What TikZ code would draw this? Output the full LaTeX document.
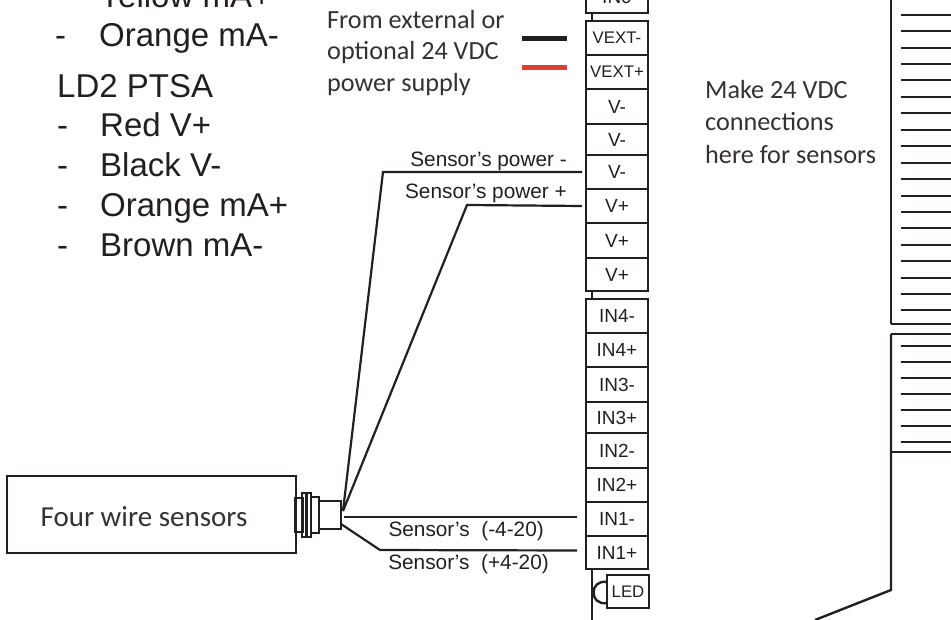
\documentclass[tikz,border=0pt]{standalone}
\usepackage{fontspec}
\setmainfont{Liberation Sans}
\newfontfamily\notefont{Carlito}
\usetikzlibrary{positioning}
\definecolor{ink}{HTML}{231F20}
\definecolor{feedred}{HTML}{D9402E}

\begin{document}
\begin{tikzpicture}[
            x=1pt, y=-1pt,
            terminal/.style={draw=ink, line width=2pt, rectangle, inner sep=0pt, outer sep=0pt, minimum width=62pt, text=ink, font=\fontsize{19}{21}\selectfont},
            smallterm/.style={terminal, font=\fontsize{16.8}{18}\selectfont},
            block/.style={draw=ink, line width=2.6pt},
            part/.style={draw=ink, line width=2.4pt, rectangle, inner sep=0pt, outer sep=0pt},
            wire/.style={draw=ink, line width=2.2pt},
            feed/.style={line width=5pt},
            outline/.style={draw=ink, line width=2.4pt},
            tick/.style={draw=ink, line width=2pt},
            listing/.style={anchor=base west, inner sep=0pt, text=ink, font=\fontsize{33}{36}\selectfont},
            wirelabel/.style={anchor=base east, inner sep=0pt, text=ink, font=\fontsize{20.8}{23}\selectfont},
            note/.style={anchor=base west, inner sep=0pt, text=ink!92, font=\notefont\fontsize{26.2}{29}\selectfont}
        ]
        \clip (0,0) rectangle (951,620);

        % Wiring list
        \node[listing] (yellow) at (99,8) {Yellow mA+};
        \node[listing] (dashb) at (55,47) {-};
        \node[listing] (orangea) at (99,47) {Orange mA-};
        \node[listing] (ptsa) at (57,98) {LD2 PTSA};
        \foreach \nm/\txt/\ypos in {red/Red V+/137, black/Black V-/177, orangeb/Orange mA+/217, brown/Brown mA-/257}{
            \node[listing] (dash\nm) at (57,\ypos) {-};
            \node[listing] (\nm) at (100,\ypos) {\txt};
        }

        % Terminal strip
        \foreach \nm/\txt/\ya/\yb in {inzero/IN0/-20/13, vm1/V-/89/124, vm2/V-/124/155, vm3/V-/155/189, vp1/V+/189/223, vp2/V+/223/258, vp3/V+/258/291, infourm/IN4-/299/333, infourp/IN4+/333/367, inthreem/IN3-/367/402, inthreep/IN3+/402/433, intwom/IN2-/433/468, intwop/IN2+/468/502, inonem/IN1-/502/536, inonep/IN1+/536/569}{
            \node[terminal, minimum height={(\yb-\ya)*1pt}] (\nm) at (617,{(\ya+\yb)/2}) {\txt};
        }
        \node[smallterm, minimum height=34pt] (vextm) at (617,38) {VEXT-};
        \node[smallterm, minimum height=34pt] (vextp) at (617,72) {VEXT+};
        \draw[block] (vextm.north west) rectangle (vp3.south east);
        \draw[block] (infourm.north west) rectangle (inonep.south east);
        \draw[block] (inzero.north west) rectangle (inzero.south east);

        % Board edge behind the strip
        \draw[outline] (592,13) -- (592,21);
        \draw[outline] (592,291) -- (592,299);
        \draw[outline] (592,569) -- (592,620);
        \node[smallterm, minimum width=42pt, minimum height=33pt, line width=2.2pt] (led) at (628,591.5) {LED};
        \draw[outline] (607,582) .. controls (589,579) and (589,606) .. (607,603);

        % External supply
        \node[note] (froma) at (327,29) {From external or};
        \node[note] (fromb) at (327,60) {optional 24 VDC};
        \node[note] (fromc) at (327,92) {power supply};
        \coordinate (blacka) at (522,39);
        \coordinate (blackb) at (567,39);
        \coordinate (reda) at (522,68);
        \coordinate (redb) at (567,68);
        \draw[feed, draw=ink] (blacka) -- (blackb);
        \draw[feed, draw=feedred] (reda) -- (redb);

        \node[note] (makea) at (705,99) {Make 24 VDC};
        \node[note] (makeb) at (705,131) {connections};
        \node[note] (makec) at (705,164) {here for sensors};

        % Sensor and its plug
        \node[part, minimum width=289pt, minimum height=77pt] (sensor) at (151.5,514.5) {};
        \node[note, anchor=center, font=\notefont\fontsize{29}{32}\selectfont] (sensortext) at (144,517) {Four wire sensors};
        \node[part, minimum width=7pt, minimum height=34pt] (plugback) at (299,515) {};
        \node[part, minimum width=8pt, minimum height=36pt] (plugcollar) at (315,515) {};
        \node[part, minimum width=9pt, minimum height=44pt] (plugnut) at (306.5,515) {};
        \node[part, minimum width=22pt, minimum height=28pt] (plugbody) at (330,515) {};
        \draw[part] (plugnut.north) -- (plugnut.south);

        % Sensor wires
        \coordinate (powerm) at ([xshift=-4pt]vm3.west);
        \coordinate (powerp) at ([xshift=-4pt]vp1.west);
        \coordinate (sigm) at ([shift={(-9pt,2pt)}]inonem.west);
        \coordinate (sigp) at ([shift={(-9pt,2pt)}]inonep.west);
        \coordinate (plugtop) at ([shift={(2pt,4pt)}]plugbody.east);
        \draw[wire] (plugtop) -- (383,172) -- (powerm);
        \draw[wire] (plugtop) -- (467,205) -- (powerp);
        \draw[wire] (plugbody.east |- sigm) ++(3,0) -- (sigm);
        \draw[wire] ([yshift=-9pt]plugbody.east) -- (380,550) -- (sigp);
        \node[wirelabel] (labpowerm) at (567,167) {Sensor’s power -};
        \node[wirelabel] (labpowerp) at (567,199) {Sensor’s power +};
        \node[wirelabel] (labsigm) at (544,536) {Sensor’s\ \ (-4-20)};
        \node[wirelabel] (labsigp) at (549,569) {Sensor’s\ \ (+4-20)};

        % Right hand module
        \draw[outline] (891,0) -- (891,324);
        \draw[outline] (891,334) -- (891,590) -- (815,620);
        \draw[outline] (891,324) -- (951,324);
        \draw[outline] (891,334) -- (951,334);
        \draw[outline] (891,452) -- (951,452);
        \foreach \ypos in {15,31.5,48,64,80.5,97,113.5,130,146,163,179,196,212,228.5,245,261.5,278,294,310.5,346,362,378,394,410,426,442}{
            \draw[tick] (901,\ypos) -- (951,\ypos);
        }
\end{tikzpicture}
\end{document}
